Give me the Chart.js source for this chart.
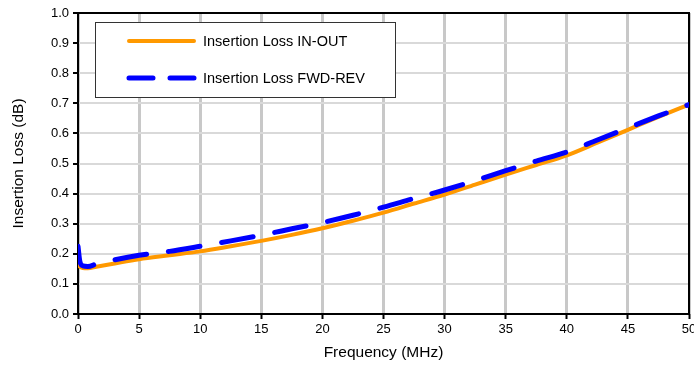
<!DOCTYPE html>
<html>
<head>
<meta charset="utf-8">
<script src="https://cdn.jsdelivr.net/npm/chart.js@4/dist/chart.umd.min.js"></script>
<style>
  html, body { margin: 0; padding: 0; background: #fff; }
  #wrap { width: 694px; height: 367px; }
</style>
</head>
<body>
<div id="wrap"><canvas id="loss-chart" width="694" height="367"></canvas></div>
<script>
// frequency points (MHz)
const freq = [0, 0.15, 0.4, 0.8, 1.5, 3, 5, 7.5, 10, 12.5, 15, 17.5, 20, 22.5, 25, 27.5, 30, 32.5, 35, 37.5, 40, 42.5, 45, 47.5, 50];
// insertion loss (dB)
const lossInOut = [0.165, 0.157, 0.153, 0.152, 0.157, 0.168, 0.182, 0.195, 0.208, 0.225, 0.243, 0.263, 0.285, 0.31, 0.337, 0.367, 0.397, 0.43, 0.463, 0.495, 0.527, 0.569, 0.612, 0.655, 0.696];
const lossFwdRev = [0.225, 0.175, 0.16, 0.158, 0.166, 0.18, 0.195, 0.208, 0.225, 0.243, 0.262, 0.283, 0.304, 0.328, 0.355, 0.384, 0.412, 0.443, 0.476, 0.508, 0.538, 0.578, 0.618, 0.658, 0.696];
const seriesNames = ['Insertion Loss IN-OUT', 'Insertion Loss FWD-REV'];
const xTicks = [0, 5, 10, 15, 20, 25, 30, 35, 40, 45, 50];

const FONT = "'Liberation Sans', Arial, sans-serif";

const toPoints = (ys) => freq.map((f, i) => ({ x: f, y: ys[i] }));

// black frame round the plot area
const frame = {
    id: 'frame',
    beforeDatasetsDraw: (chart) => {
        const { ctx, chartArea: a } = chart;
        ctx.save();
        ctx.strokeStyle = '#000';
        ctx.lineWidth = 2;
        ctx.strokeRect(a.left, a.top, a.right - a.left, a.bottom - a.top);
        ctx.restore();
    }
};

// legend box inside the plot
const boxLegend = {
    id: 'boxLegend',
    afterDraw: (chart) => {
        const { ctx } = chart;
        const x = 95, y = 22, w = 300, h = 75;
        ctx.save();
        ctx.fillStyle = '#fff';
        ctx.fillRect(x, y, w, h);
        ctx.strokeStyle = '#333';
        ctx.lineWidth = 1;
        ctx.strokeRect(x + 0.5, y + 0.5, w, h);
        const rows = [41, 78];
        chart.data.datasets.forEach((ds, i) => {
            ctx.beginPath();
            ctx.strokeStyle = ds.borderColor;
            ctx.lineWidth = ds.borderWidth;
            ctx.lineCap = 'round';
            ctx.setLineDash(i === 1 ? [24, 17] : []);
            ctx.moveTo(129, rows[i]);
            ctx.lineTo(194, rows[i]);
            ctx.stroke();
            ctx.setLineDash([]);
            ctx.fillStyle = '#000';
            ctx.font = '14.5px ' + FONT;
            ctx.textBaseline = 'middle';
            ctx.fillText(ds.label, 203, rows[i] + 1);
        });
        ctx.restore();
    }
};

new Chart(document.getElementById('loss-chart').getContext('2d'), {
    type: 'line',
    data: {
        datasets: [
            {
                label: seriesNames[0],
                data: toPoints(lossInOut),
                borderColor: '#FF9900',
                borderWidth: 4,
                pointRadius: 0,
                cubicInterpolationMode: 'monotone',
                borderCapStyle: 'round',
                order: 2
            },
            {
                label: seriesNames[1],
                data: toPoints(lossFwdRev),
                borderColor: '#0000FF',
                borderWidth: 5,
                borderDash: [32, 22],
                borderCapStyle: 'round',
                pointRadius: 0,
                cubicInterpolationMode: 'monotone',
                order: 1
            }
        ]
    },
    options: {
        responsive: false,
        animation: false,
        layout: { padding: { top: 13, right: 5, left: 0, bottom: 0 } },
        plugins: { legend: { display: false }, tooltip: { enabled: false } },
        scales: {
            x: {
                type: 'linear',
                min: 0,
                max: 50,
                afterBuildTicks: (scale) => { scale.ticks = xTicks.map(v => ({ value: v })); },
                afterFit: (scale) => { scale.height = 53; scale.paddingLeft = 0; scale.paddingRight = 0; },
                ticks: { color: '#000', font: { family: FONT, size: 13 }, padding: 3, maxRotation: 0 },
                grid: { color: '#c8c8c8', lineWidth: 3, tickColor: '#000', tickWidth: 2, tickLength: 5 },
                border: { display: false },
                title: { display: true, text: 'Frequency (MHz)', color: '#000', font: { family: FONT, size: 15.5 }, padding: { top: 4, bottom: 5 } }
            },
            y: {
                min: 0,
                max: 1,
                afterFit: (scale) => { scale.width = 78; scale.paddingTop = 0; scale.paddingBottom = 0; },
                ticks: { stepSize: 0.1, color: '#000', font: { family: FONT, size: 13 }, padding: 4, callback: (v) => v.toFixed(1) },
                grid: { color: '#d9d9d9', lineWidth: 2, tickColor: '#000', tickWidth: 2, tickLength: 5 },
                border: { display: false },
                title: { display: true, text: 'Insertion Loss (dB)', color: '#000', font: { family: FONT, size: 15.5 }, padding: { top: 9, bottom: 4 } }
            }
        }
    },
    plugins: [frame, boxLegend]
});
</script>
</body>
</html>
